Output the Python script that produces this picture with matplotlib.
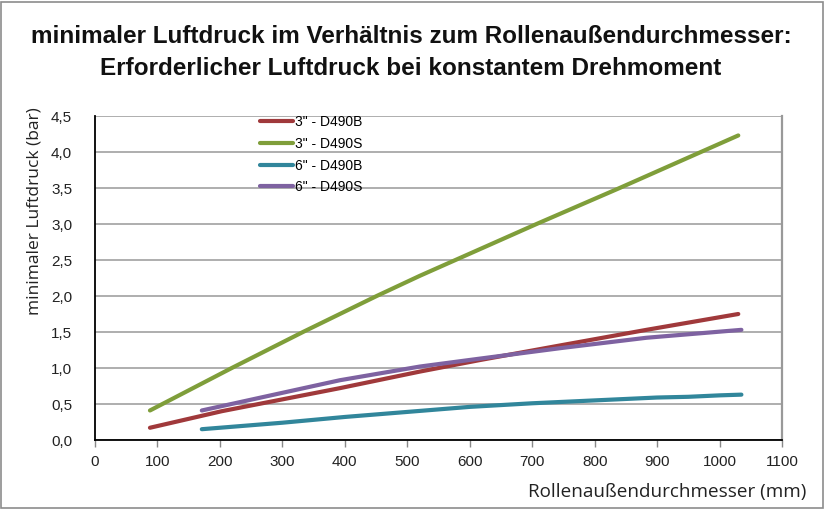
import matplotlib
matplotlib.use("Agg")
import matplotlib.pyplot as plt
from matplotlib.patches import Rectangle
from matplotlib.ticker import FuncFormatter, MultipleLocator

# ---- data ----
x_3B = [88, 203, 392, 520, 616, 749, 883, 1030]
y_3B = [0.17, 0.40, 0.72, 0.95, 1.11, 1.32, 1.53, 1.75]

x_3S = [88, 219, 333, 451, 520, 707, 840, 1030]
y_3S = [0.41, 1.00, 1.50, 2.00, 2.28, 3.00, 3.50, 4.23]

x_6B = [171, 300, 400, 500, 600, 700, 800, 900, 950, 1000, 1035]
y_6B = [0.15, 0.24, 0.32, 0.39, 0.46, 0.51, 0.55, 0.59, 0.60, 0.62, 0.63]

x_6S = [171, 392, 520, 616, 749, 883, 1035]
y_6S = [0.41, 0.83, 1.02, 1.13, 1.28, 1.42, 1.53]

labels = ['3" - D490B', '3" - D490S', '6" - D490B', '6" - D490S']
colors = ['#A0393B', '#7F9E3A', '#31869B', '#7E62A1']

title = ("minimaler Luftdruck im Verhältnis zum Rollenaußendurchmesser:\n"
         "Erforderlicher Luftdruck bei konstantem Drehmoment")
xlabel = "Rollenaußendurchmesser (mm)"
ylabel = "minimaler Luftdruck (bar)"

fig = plt.figure(figsize=(8.25, 5.09), dpi=100)
ax = fig.add_axes([95/825, 1-440/509, (782-95)/825, (440-116)/509])

series = [(x_3B, y_3B), (x_3S, y_3S), (x_6B, y_6B), (x_6S, y_6S)]
for (xs, ys), lab, col in zip(series, labels, colors):
    ax.plot(xs, ys, color=col, lw=3.0, solid_capstyle='round', label=lab)

ax.set_xlim(0, 1100)
ax.set_ylim(0, 4.5)
ax.xaxis.set_major_locator(MultipleLocator(100))
ax.yaxis.set_major_locator(MultipleLocator(0.5))
ax.yaxis.set_major_formatter(FuncFormatter(lambda v, p: f"{v:.1f}".replace('.', ',')))
ax.grid(axis='y', color='#999999', lw=1.1)
ax.set_axisbelow(True)

for s in ['left', 'bottom']:
    ax.spines[s].set_color('black')
    ax.spines[s].set_linewidth(1.3)
ax.spines['top'].set_visible(False)
ax.spines['right'].set_color('#999999')
ax.spines['right'].set_linewidth(1.6)

ax.tick_params(axis='y', length=0, pad=16.5, labelsize=11, colors='#222222')
ax.tick_params(axis='x', length=5, color='#888888', width=1, pad=6,
               labelsize=11, labelcolor='#222222')
for t in ax.get_xticklabels() + ax.get_yticklabels():
    t.set_fontfamily(['Liberation Sans', 'DejaVu Sans'])

ax.set_ylabel(ylabel, fontsize=12.5, family=['Open Sans', 'DejaVu Sans'],
              color='#222222')
ax.yaxis.set_label_coords(-0.076, 0.707)

fig.text(806/825, 1-492/509, xlabel, ha='right', va='center', fontsize=13.6,
         family=['Open Sans', 'DejaVu Sans'], color='#222222')

fig.text(411/825, 1-52.5/509, title, ha='center', va='center', fontsize=17.5,
         fontweight='bold', family=['Liberation Sans', 'DejaVu Sans'],
         linespacing=1.47, color='#111111')

leg = ax.legend(loc='upper left', bbox_to_anchor=(253/825, 1-108/509),
                bbox_transform=fig.transFigure, frameon=False,
                handlelength=2.4, handletextpad=0.15, labelspacing=0.56,
                borderpad=0, prop={'family': ['Liberation Sans', 'DejaVu Sans'], 'size': 10})

fig.patches.append(Rectangle((1/825, 1/509), 822/825, 506/509, transform=fig.transFigure,
                             fill=False, edgecolor='#8c8c8c', lw=1.2))

fig.savefig('out.png', dpi=100)
